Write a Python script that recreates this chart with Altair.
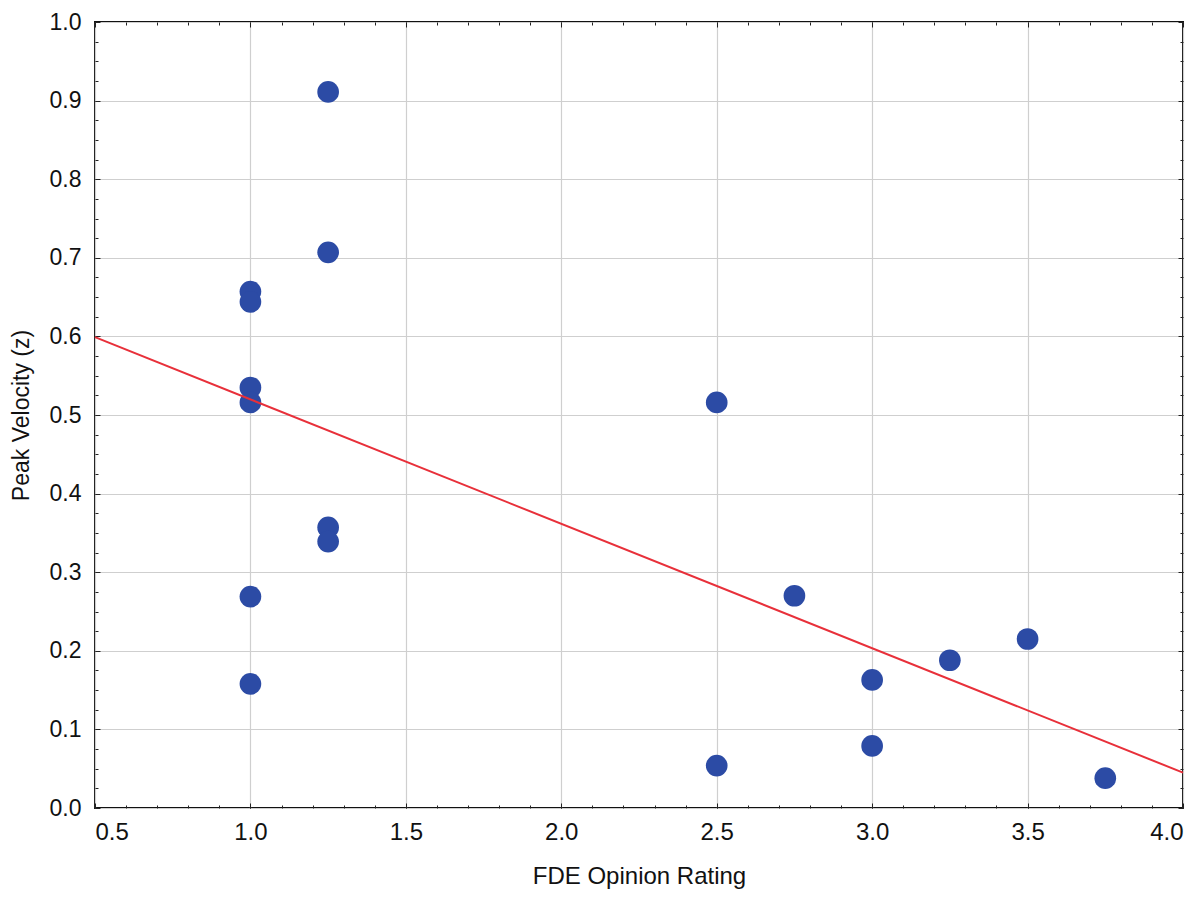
import altair as alt
import pandas as pd

# Data
rating = [1.0, 1.0, 1.0, 1.0, 1.0, 1.0, 1.25, 1.25, 1.25, 1.25,
          2.5, 2.5, 2.75, 3.0, 3.0, 3.25, 3.5, 3.75]
velocity = [0.657, 0.644, 0.535, 0.516, 0.269, 0.158, 0.911, 0.707, 0.357, 0.339,
            0.516, 0.054, 0.270, 0.163, 0.079, 0.188, 0.215, 0.038]

fit_x = [0.5, 4.0]
fit_y = [0.599, 0.045]

x_major = [0.5, 1.0, 1.5, 2.0, 2.5, 3.0, 3.5, 4.0]
y_major = [0.0, 0.1, 0.2, 0.3, 0.4, 0.5, 0.6, 0.7, 0.8, 0.9, 1.0]
x_minor = [round(0.5 + 0.1 * i, 2) for i in range(36)]
y_minor = [round(0.025 * i, 3) for i in range(41)]

pts = pd.DataFrame({"x": rating, "y": velocity})
fit = pd.DataFrame({"x": fit_x, "y": fit_y})

FONT = "Liberation Sans"
xs = alt.Scale(domain=[0.5, 4.0], nice=False, zero=False)
ys = alt.Scale(domain=[0.0, 1.0], nice=False, zero=False)

base_x = alt.X("x:Q", scale=xs, axis=alt.Axis(
    values=x_major, format=".1f", grid=True, ticks=False, domain=False,
    labelFontSize=24, labelFont=FONT, labelColor="#111111", labelPadding=12,
    title="FDE Opinion Rating", titleFont=FONT, titleFontSize=24,
    titleFontWeight="normal", titleColor="#111111", titleY=68, titleBaseline="middle"))
base_y = alt.Y("y:Q", scale=ys, axis=alt.Axis(
    values=y_major, format=".1f", grid=True, ticks=False, domain=False,
    labelFontSize=23, labelFont=FONT, labelColor="#111111", labelPadding=14,
    title="Peak Velocity (z)", titleFont=FONT, titleFontSize=23,
    titleFontWeight="normal", titleColor="#111111", titleX=-74, titleBaseline="middle"))

points = alt.Chart(pts).mark_circle(size=470, opacity=1, color="#2C4BA5").encode(
    x=base_x, y=base_y)

line = alt.Chart(fit).mark_line(color="#E8303A", strokeWidth=2).encode(
    x=alt.X("x:Q", scale=xs, axis=None), y=alt.Y("y:Q", scale=ys, axis=None))


def tick_axis(orient, vals, size):
    return alt.Axis(orient=orient, values=vals, labels=False, grid=False, domain=False,
                    ticks=True, tickSize=size, tickColor="#222222", tickWidth=1,
                    offset=-size, title=None)


def tick_layer(xo, yo, xv, yv, size):
    return alt.Chart(fit).mark_point(opacity=0).encode(
        x=alt.X("x:Q", scale=xs, axis=tick_axis(xo, xv, size)),
        y=alt.Y("y:Q", scale=ys, axis=tick_axis(yo, yv, size)))


chart = alt.layer(
    points,
    tick_layer("bottom", "left", x_minor, y_minor, 3),
    tick_layer("top", "right", x_minor, y_minor, 3),
    tick_layer("bottom", "left", x_major, y_major, 5),
    tick_layer("top", "right", x_major, y_major, 5),
    line,
).resolve_axis(
    x="independent", y="independent"
).properties(
    width=1088, height=786,
    autosize=alt.AutoSizeParams(type="none"),
    padding={"left": 87, "top": 14, "right": 9, "bottom": 81},
).configure_view(stroke="#111111", strokeWidth=2).configure_axis(
    gridColor="#CFCFCF", gridWidth=1.2)

chart.save("out.html", embed_options={"renderer": "svg", "actions": False})
